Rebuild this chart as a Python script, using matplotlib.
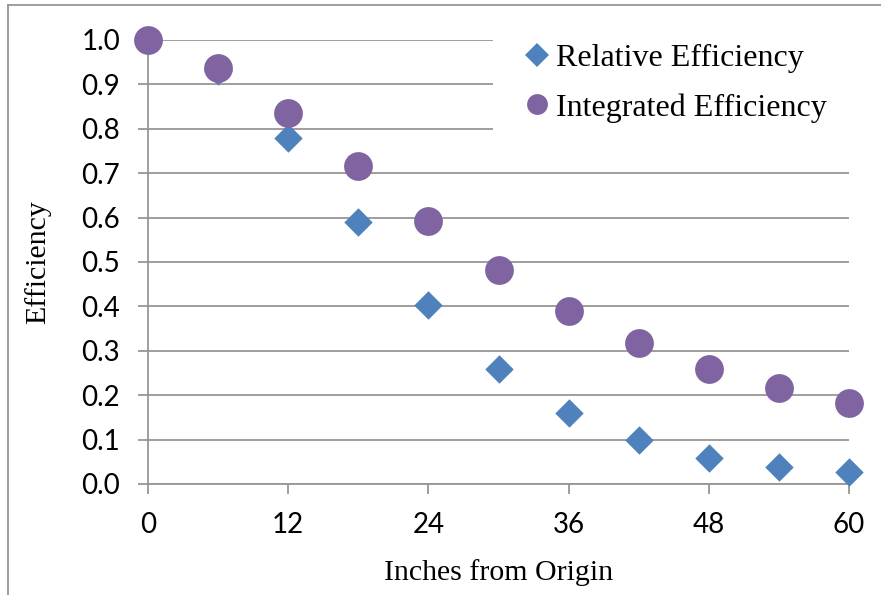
import matplotlib.pyplot as plt
from matplotlib.lines import Line2D
from matplotlib.patches import Rectangle

# datos
inches = [0, 6, 12, 18, 24, 30, 36, 42, 48, 54, 60]
relative_eff = [1.0, 0.93, 0.78, 0.59, 0.403, 0.259, 0.16, 0.099, 0.059, 0.038, 0.027]
integrated_eff = [1.0, 0.937, 0.836, 0.716, 0.592, 0.482, 0.39, 0.318, 0.259, 0.216, 0.182]
x_ticks = [0, 12, 24, 36, 48, 60]
y_ticks = [0.0, 0.1, 0.2, 0.3, 0.4, 0.5, 0.6, 0.7, 0.8, 0.9, 1.0]

blue = '#4F81BD'
purple = '#8064A2'
gray = '#969696'

fig = plt.figure(figsize=(8.81, 5.95), dpi=100)
ax = fig.add_axes([148/881, 1 - 484/595, (849-148)/881, (484-40)/595])

ax.scatter(inches, relative_eff, marker='D', s=210, color=blue, zorder=3,
           clip_on=False, linewidths=0)
ax.scatter(inches, integrated_eff, marker='o', s=430, color=purple, zorder=4,
           clip_on=False, linewidths=0)

ax.set_xlim(0, 60)
ax.set_ylim(0, 1.0)
ax.set_xticks(x_ticks)
ax.set_yticks(y_ticks)
ax.set_yticklabels([f'{v:.1f}' for v in y_ticks])
ax.grid(axis='y', color=gray, linewidth=1.3)
ax.set_axisbelow(True)

for s in ['top', 'right']:
    ax.spines[s].set_visible(False)
for s in ['left', 'bottom']:
    ax.spines[s].set_color(gray)
    ax.spines[s].set_linewidth(1.3)
ax.tick_params(color=gray, width=1.3, length=7.2, labelsize=20)
ax.tick_params(axis='x', pad=13)
ax.tick_params(axis='y', pad=13)
for lbl in ax.get_xticklabels() + ax.get_yticklabels():
    lbl.set_fontfamily('Lato')

ax.set_xlabel('Inches from Origin', fontfamily='Liberation Serif', fontsize=21.5, labelpad=15)
ax.set_ylabel('Efficiency', fontfamily='Liberation Serif', fontsize=21.5, labelpad=22)

# fondo blanco de la leyenda tapando la rejilla
ax.add_patch(Rectangle((0.492, 0.78), 0.52, 0.25, transform=ax.transAxes,
                       facecolor='white', edgecolor='none', zorder=1.5, clip_on=False))

handles = [
    Line2D([], [], marker='D', linestyle='none', color=blue, markersize=12, markeredgewidth=0),
    Line2D([], [], marker='o', linestyle='none', color=purple, markersize=15, markeredgewidth=0),
]
leg = ax.legend(handles, ['Relative Efficiency', 'Integrated Efficiency'],
                loc='upper left', bbox_to_anchor=((521-148)/701, (484-44)/444),
                frameon=False, prop={'family': 'Liberation Serif', 'size': 23},
                handletextpad=0.1, handlelength=1.0, labelspacing=0.62,
                borderpad=0, borderaxespad=0)
leg.set_zorder(5)

# marco exterior
fig.add_artist(Line2D([8/881, 8/881], [0, 1 - 5/595], color=gray, linewidth=1.3))
fig.add_artist(Line2D([8/881, 1], [1 - 5/595, 1 - 5/595], color=gray, linewidth=1.3))

fig.savefig('out.png', dpi=100)
